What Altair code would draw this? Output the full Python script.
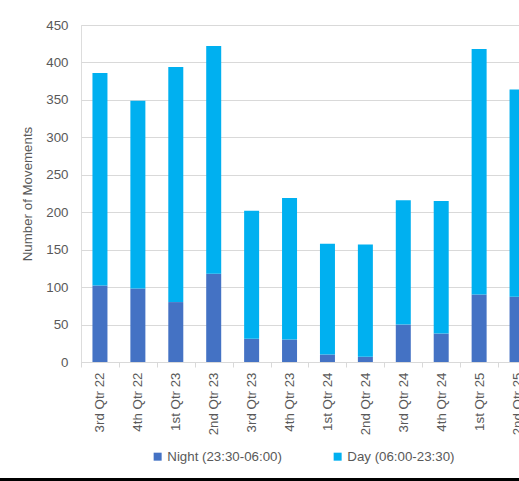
import altair as alt
import pandas as pd

quarters = ["3rd Qtr 22", "4th Qtr 22", "1st Qtr 23", "2nd Qtr 23", "3rd Qtr 23", "4th Qtr 23",
            "1st Qtr 24", "2nd Qtr 24", "3rd Qtr 24", "4th Qtr 24", "1st Qtr 25", "2nd Qtr 25"]
night = [102, 98, 80, 118, 31, 30, 10, 7, 50, 38, 90, 87]
total = [386, 349, 394, 422, 202, 219, 158, 157, 216, 215, 418, 364]
day = [t - n for t, n in zip(total, night)]

series_names = ["Night (23:30-06:00)", "Day (06:00-23:30)"]
series_colors = ["#4472C4", "#00B0F0"]

rows = []
for q, n, d in zip(quarters, night, day):
    rows.append({"Quarter": q, "Series": series_names[0], "Value": n, "Order": 0})
    rows.append({"Quarter": q, "Series": series_names[1], "Value": d, "Order": 1})
df = pd.DataFrame(rows)

FONT = "Liberation Sans"
TXT = "#595959"
W = 438          # visible plot width (chart is cut at the window edge)
XR = 455         # full band range, 12 bands
H = 337

bars = alt.Chart(df).mark_bar(size=15).encode(
    x=alt.X("Quarter:N", sort=quarters, title=None,
            scale=alt.Scale(range=[0, XR], paddingInner=0, paddingOuter=0),
            axis=alt.Axis(labelAngle=270, labelFontSize=13.3, labelColor=TXT, labelFont=FONT,
                          tickBand="extent", tickSize=5, tickColor="#D9D9D9",
                          domainColor="#D9D9D9", labelPadding=5, grid=False)),
    y=alt.Y("Value:Q", stack="zero", title="Number of Movements",
            scale=alt.Scale(domain=[0, 450], nice=False),
            axis=alt.Axis(values=list(range(0, 451, 50)), labelFontSize=13.3, labelColor=TXT,
                          labelFont=FONT, domain=False, ticks=False, labelPadding=13,
                          gridColor="#D9D9D9", titleFontSize=13.3, titleColor=TXT,
                          titleFont=FONT, titleFontWeight="normal", titleX=-54,
                          titleBaseline="middle")),
    color=alt.Color("Series:N", sort=series_names,
                    scale=alt.Scale(domain=series_names, range=series_colors),
                    legend=alt.Legend(title=None, orient="none", direction="horizontal",
                                      legendX=70, legendY=425, symbolType="square",
                                      symbolSize=64, labelFontSize=13.3, labelColor=TXT,
                                      labelFont=FONT, columnPadding=49, labelOffset=3,
                                      symbolStrokeWidth=0)),
    order=alt.Order("Order:Q"),
)

border = alt.Chart(df).mark_rule(color="black", strokeWidth=1.5).encode(
    x=alt.value(-81), x2=alt.value(W), y=alt.value(454.5)
)

chart = alt.layer(bars, border).properties(
    width=W, height=H,
    autosize=alt.AutoSizeParams(type="none"),
    padding={"left": 81, "top": 25, "right": 0, "bottom": 119},
).configure_view(stroke=None).configure(background="white")

chart.save("out.html", embed_options={"renderer": "svg", "actions": False})
